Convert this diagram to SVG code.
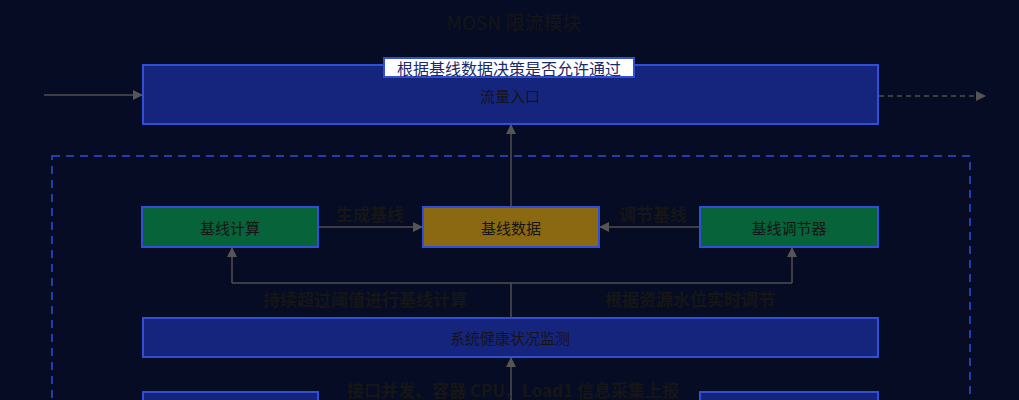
<svg xmlns="http://www.w3.org/2000/svg" width="1019" height="400" viewBox="0 0 1019 400">
<defs>
<style>
.bg{fill:#050c24}
.blue{fill:#15257d;stroke:#2e4fd6;stroke-width:2}
.green{fill:#07633a;stroke:#2e4fd6;stroke-width:2}
.gold{fill:#8a6912;stroke:#2e4fd6;stroke-width:2}
.t{font-family:"Noto Sans CJK SC","Liberation Sans",sans-serif;fill:#151515;text-anchor:middle;dominant-baseline:central}
.nt{font-size:15px}
.lb{font-size:17px;font-weight:bold;fill:#161616}
.ln{fill:none;stroke:#4f4f4f;stroke-width:1.5}
</style>
<marker id="ah" markerWidth="10" markerHeight="10" refX="9" refY="5" orient="auto" markerUnits="userSpaceOnUse">
<path d="M0,0 L10,5 L0,10 Z" fill="#555"/>
</marker>
</defs>
<rect class="bg" x="0" y="0" width="1019" height="400"/>
<text class="t" x="514" y="21" style="font-size:19px;fill:#161616">MOSN 限流模块</text>
<rect x="52" y="156" width="918" height="260" fill="none" stroke="#2e4fd6" stroke-width="1.5" stroke-dasharray="8,6"/>
<g id="connectors">
<line class="ln" x1="44" y1="95" x2="142" y2="95" marker-end="url(#ah)"/>
<line class="ln" x1="879" y1="96" x2="985" y2="96" stroke-dasharray="5,4" marker-end="url(#ah)"/>
<line class="ln" x1="511" y1="207" x2="511" y2="125" marker-end="url(#ah)"/>
<line class="ln" x1="318" y1="227" x2="422" y2="227" marker-end="url(#ah)"/>
<line class="ln" x1="700" y1="227" x2="600" y2="227" marker-end="url(#ah)"/>
<polyline class="ln" points="511,318 511,283"/>
<polyline class="ln" points="232,283 792,283"/>
<line class="ln" x1="232" y1="283" x2="232" y2="248" marker-end="url(#ah)"/>
<line class="ln" x1="792" y1="283" x2="792" y2="248" marker-end="url(#ah)"/>
<line class="ln" x1="511" y1="400" x2="511" y2="358" marker-end="url(#ah)"/>
<text class="t lb" x="370" y="213">生成基线</text>
<text class="t lb" x="653" y="213">调节基线</text>
<text class="t lb" x="365" y="298">持续超过阈值进行基线计算</text>
<text class="t lb" x="690" y="298">根据资源水位实时调节</text>
<text class="t lb" x="513" y="389">接口并发、容器 CPU、Load1 信息采集上报</text>
</g>
<g id="entry">
<rect class="blue" x="143" y="65" width="735" height="59"/>
<text class="t nt" x="510" y="95">流量入口</text>
</g>
<g id="entry-label">
<rect x="384" y="58" width="250" height="19" fill="#ffffff" stroke="#2e4fd6" stroke-width="2"/>
<text class="t" x="509" y="68" style="font-size:16px;fill:#1b2a6b">根据基线数据决策是否允许通过</text>
</g>
<g id="calc">
<rect class="green" x="142" y="207" width="176" height="40"/>
<text class="t nt" x="230" y="227">基线计算</text>
</g>
<g id="data">
<rect class="gold" x="423" y="207" width="176" height="40"/>
<text class="t nt" x="511" y="227">基线数据</text>
</g>
<g id="regulator">
<rect class="green" x="700" y="207" width="178" height="40"/>
<text class="t nt" x="789" y="227">基线调节器</text>
</g>
<g id="monitor">
<rect class="blue" x="143" y="318" width="735" height="39"/>
<text class="t nt" x="510" y="337">系统健康状况监测</text>
</g>
<g id="bottom-left">
<rect class="blue" x="143" y="392" width="175" height="30"/>
</g>
<g id="bottom-right">
<rect class="blue" x="700" y="392" width="178" height="30"/>
</g>
</svg>
